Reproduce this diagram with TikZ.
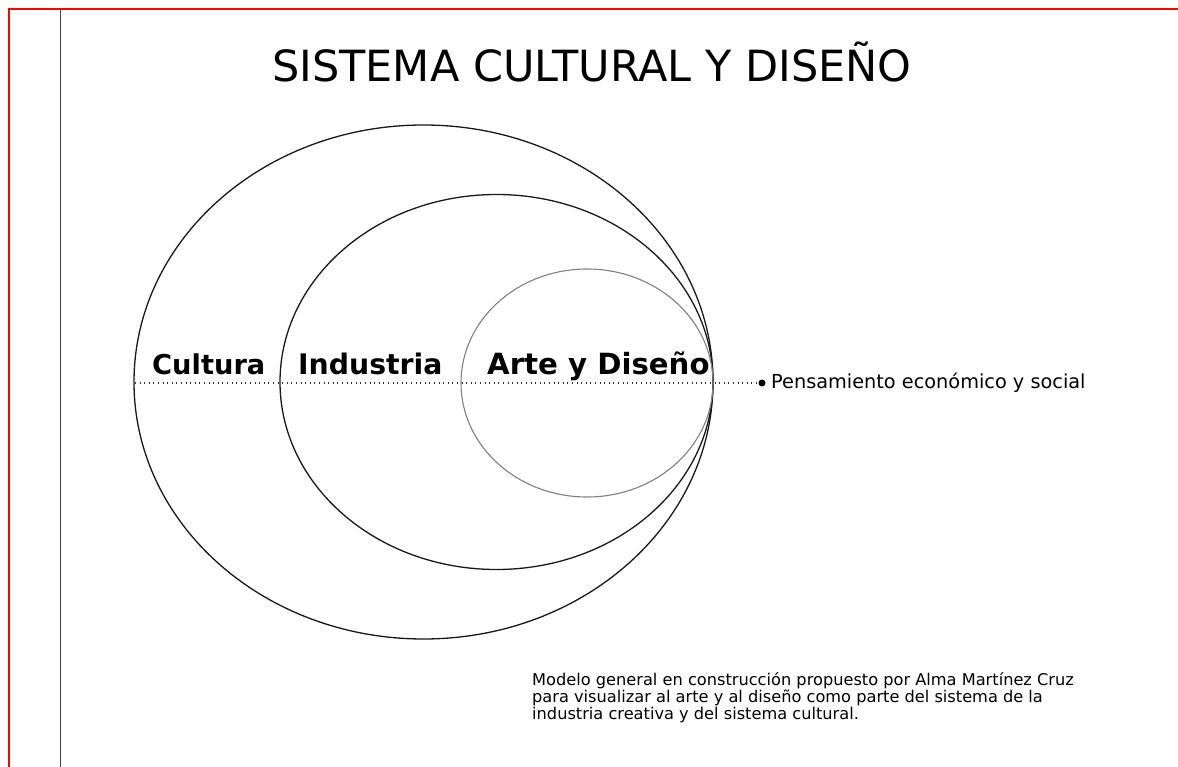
\documentclass[tikz,border=0pt]{standalone}
\usepackage{fontspec}
\setmainfont{DejaVu Sans}
\begin{document}
\begin{tikzpicture}[x=1pt,y=-1pt,
  ring/.style={draw=black!90, line width=1.3pt},
  innerring/.style={draw=black!50, line width=1.1pt},
  lbl/.style={anchor=base west, inner sep=0pt},
  dotline/.style={draw=black!80, line width=1.1pt, dash pattern=on 1pt off 3.6pt},
  note/.style={font=\fontsize{16.2}{17}\selectfont, anchor=north west, inner sep=0pt, align=left}]
\useasboundingbox (0,0) rectangle (1178,767);
\fill[white] (0,0) rectangle (1178,767);
% frame lines
\draw[red, line width=2pt] (8.5,767) -- (8.5,9.5) -- (1178,9.5);
\draw[black!75, line width=1.3pt] (60.5,10) -- (60.5,767);
% title
\node[font=\fontsize{43}{46}\selectfont, anchor=base west, inner sep=0pt] (title) at (272,82) {SISTEMA CULTURAL Y DISEÑO};
% ellipses
\draw[ring] (423.5,382) ellipse [x radius=289.5, y radius=257];
\draw[ring] (496.5,382) ellipse [x radius=216.5, y radius=187.5];
\draw[innerring] (587,383) ellipse [x radius=126, y radius=114];
% dotted axis and dot
\coordinate (axstart) at (135,383);
\node[circle, fill=black, inner sep=0pt, minimum size=7pt] (dot) at (762,383) {};
\draw[dotline] (axstart) -- (dot.west);
% labels
\node[lbl, font=\fontsize{27.3}{30}\selectfont\bfseries] (cultura) at (152,374) {Cultura};
\node[lbl, font=\fontsize{28.3}{30}\selectfont\bfseries] (industria) at (298,374) {Industria};
\node[lbl, font=\fontsize{29.2}{30}\selectfont\bfseries] (arte) at (487,374) {Arte y Diseño};
\node[font=\fontsize{19.3}{22}\selectfont, anchor=west, inner sep=0pt] (pens) at (771,383) {Pensamiento económico y social};
% note
\node[note] (nota) at (532,672) {Modelo general en construcción propuesto por Alma Martínez Cruz\\para visualizar al arte y al diseño como parte del sistema de la\\industria creativa y del sistema cultural.};
\end{tikzpicture}
\end{document}
